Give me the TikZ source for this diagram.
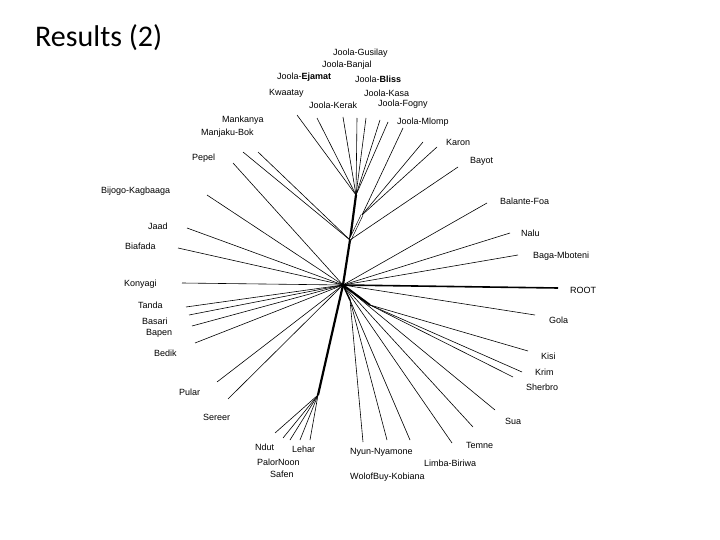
\documentclass[tikz,border=0pt]{standalone}
\usepackage{fontspec}
\setmainfont{Liberation Sans}
\newfontfamily\titlefont{Carlito}
\begin{document}
\begin{tikzpicture}[x=1pt,y=-1pt,
  lbl/.style={font=\fontsize{9}{10}\selectfont,inner sep=0pt,anchor=west},
  br/.style={line width=0.6pt},
  trunk/.style={line width=2.2pt}]
\useasboundingbox (0,0) rectangle (720,540);
\node[anchor=west,inner sep=0pt,font=\titlefont\fontsize{30}{34}\selectfont] (title) at (35,38) {Results (2)};
% hubs
\coordinate (C) at (343,285);
\coordinate (M) at (350,240);
\coordinate (J) at (356,195);
\coordinate (K) at (362,215);
\coordinate (B) at (318,395);
\coordinate (W) at (350,300);
\coordinate (S) at (370,305);
\draw[trunk] (C) -- (M) -- (J);
\draw[br,double distance=1.2pt] (M) -- (K);
\draw[trunk] (C) -- (B);
\draw[line width=1.5pt] (C) -- (W);
\draw[line width=2pt] (C) -- (S);
% Joola cluster leaves
\foreach \n/\x/\y in {a/297/115, b/317/118, c/343/117, d/357/118, e/366/118, f/380/120, g/388/122}
  \draw[br] (J) -- (\x,\y) coordinate (j\n);
\foreach \n/\x/\y in {a/403/128, b/423/142, c/437/147}
  \draw[br] (K) -- (\x,\y) coordinate (k\n);
\draw[br] (M) -- (458,167) coordinate (bay);
% left upper
\draw[br] (M) -- (258,152) coordinate (man);
\draw[br] (M) -- (243,152) coordinate (mjb);
\draw[br] (C) -- (233,163) coordinate (pep);
\draw[br] (C) -- (207,195) coordinate (bij);
\draw[br] (C) -- (187,228) coordinate (jaa);
\draw[br] (C) -- (178,248) coordinate (bia);
\draw[br] (C) -- (182,283) coordinate (kon);
\draw[br] (C) -- (186,307) coordinate (tan);
\draw[br] (C) -- (189,315) coordinate (bas);
\draw[br] (C) -- (192,326) coordinate (bap);
\draw[br] (C) -- (195,343) coordinate (bed);
\draw[br] (C) -- (217,382) coordinate (pul);
\draw[br] (C) -- (228,399) coordinate (ser);
% bottom cluster
\foreach \n/\x/\y in {a/275/433, b/283/438, c/290/440, d/300/440, e/310/440}
  \draw[br] (B) -- (\x,\y) coordinate (b\n);
% bottom right
\foreach \n/\x/\y in {a/363/442, b/387/440, c/410/440}
  \draw[br] (W) -- (\x,\y) coordinate (w\n);
\foreach \n/\x/\y in {a/452/443, b/473/427, c/495/410}
  \draw[br] (C) -- (\x,\y) coordinate (s\n);
\foreach \n/\x/\y in {a/513/377, b/522/372, c/528/351}
  \draw[br] (S) -- (\x,\y) coordinate (r\n);
\draw[br] (C) -- (535,315) coordinate (gol);
\draw[line width=1.6pt] (C) -- (558,288) coordinate (roo);
\draw[br] (C) -- (487,203) coordinate (bal);
\draw[br] (C) -- (510,233) coordinate (nal);
\draw[br] (C) -- (518,255) coordinate (bag);
% labels
\node[lbl] (l1) at (333,53) {Joola-Gusilay};
\node[lbl] (l2) at (322,65) {Joola-Banjal};
\node[lbl] (l3) at (277,77) {Joola-\textbf{Ejamat}};
\node[lbl] (l4) at (355,79) {Joola-\textbf{Bliss}};
\node[lbl] (l5) at (269,93) {Kwaatay};
\node[lbl] (l6) at (364,93) {Joola-Kasa};
\node[lbl] (l7) at (309,105) {Joola-Kerak};
\node[lbl] (l8) at (378,104) {Joola-Fogny};
\node[lbl] (l9) at (397,122) {Joola-Mlomp};
\node[lbl] (l10) at (222,120) {Mankanya};
\node[lbl] (l11) at (201,133) {Manjaku-Bok};
\node[lbl] (l12) at (446,142) {Karon};
\node[lbl] (l13) at (192,158) {Pepel};
\node[lbl] (l14) at (470,161) {Bayot};
\node[lbl] (l15) at (101,191) {Bijogo-Kagbaaga};
\node[lbl] (l16) at (500,201) {Balante-Foa};
\node[lbl] (l17) at (148,226) {Jaad};
\node[lbl] (l18) at (521,233) {Nalu};
\node[lbl] (l19) at (125,246) {Biafada};
\node[lbl] (l20) at (533,256) {Baga-Mboteni};
\node[lbl] (l21) at (124,284) {Konyagi};
\node[lbl] (l22) at (570,290) {ROOT};
\node[lbl] (l23) at (138,305) {Tanda};
\node[lbl] (l24) at (142,321) {Basari};
\node[lbl] (l25) at (146,333) {Bapen};
\node[lbl] (l26) at (549,320) {Gola};
\node[lbl] (l27) at (154,353) {Bedik};
\node[lbl] (l28) at (541,356) {Kisi};
\node[lbl] (l29) at (535,372) {Krim};
\node[lbl] (l30) at (526,387) {Sherbro};
\node[lbl] (l31) at (179,392) {Pular};
\node[lbl] (l32) at (203,417) {Sereer};
\node[lbl] (l33) at (505,421) {Sua};
\node[lbl] (l34) at (255,447) {Ndut};
\node[lbl] (l35) at (292,449) {Lehar};
\node[lbl] (l36) at (466,445) {Temne};
\node[lbl] (l37) at (350,452) {Nyun-Nyamone};
\node[lbl] (l38) at (257,462) {PalorNoon};
\node[lbl] (l39) at (424,463) {Limba-Biriwa};
\node[lbl] (l40) at (270,474) {Safen};
\node[lbl] (l41) at (350,477) {WolofBuy-Kobiana};
\end{tikzpicture}
\end{document}
